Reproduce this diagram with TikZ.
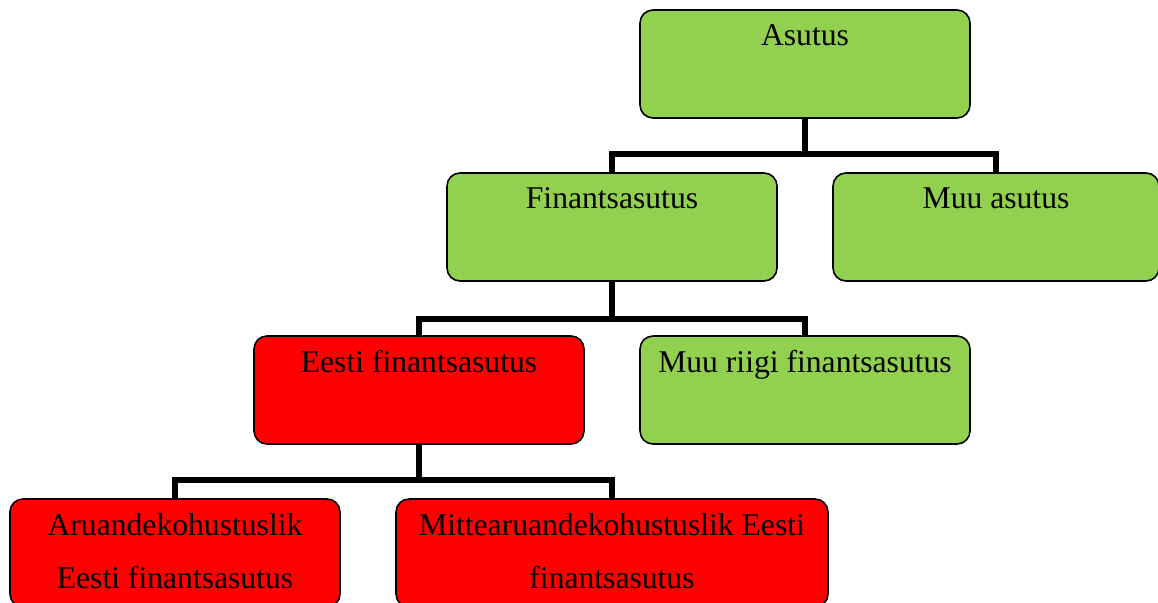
\documentclass[tikz,border=0pt]{standalone}
\usepackage{fontspec}
\setmainfont{Liberation Serif}
\usepackage{tikz}
\definecolor{boxgreen}{HTML}{92D050}
\definecolor{boxred}{HTML}{FF0000}

\begin{document}
\begin{tikzpicture}[
		orgbox/.style={draw=black, line width=0.9pt, rounded corners=0.26cm, minimum width=6.6cm, minimum height=2.16cm, inner sep=0pt},
		gbox/.style={orgbox, fill=boxgreen},
		rbox/.style={orgbox, fill=boxred},
		boxtext/.style={anchor=north, align=center, inner sep=0pt, yshift=-0.3cm, font=\fontsize{18}{30}\selectfont},
		link/.style={line width=3.2pt}]
		\useasboundingbox (0,0) rectangle (23.16,-12.04);
		% boxes
		\node[gbox] (asutus) at (16.1,-1.28) {};
		\node[gbox] (fin) at (12.24,-4.54) {};
		\node[gbox, minimum width=6.52cm] (muu) at (19.92,-4.54) {};
		\node[rbox] (eesti) at (8.38,-7.8) {};
		\node[gbox] (muuriik) at (16.1,-7.8) {};
		\node[rbox] (aru) at (3.5,-11.06) {};
		\node[rbox, minimum width=8.64cm] (mitte) at (12.24,-11.06) {};
		% texts
		\node[boxtext] (asutus-t) at (asutus.north) {Asutus};
		\node[boxtext] (fin-t) at (fin.north) {Finantsasutus};
		\node[boxtext] (muu-t) at (muu.north) {Muu asutus};
		\node[boxtext] (eesti-t) at (eesti.north) {Eesti finantsasutus};
		\node[boxtext] (muuriik-t) at (muuriik.north) {Muu riigi finantsasutus};
		\node[boxtext] (aru-t) at (aru.north) {Aruandekohustuslik\\Eesti finantsasutus};
		\node[boxtext] (mitte-t) at (mitte.north) {Mittearuandekohustuslik Eesti\\finantsasutus};
		% connectors
		\draw[link] (asutus.south) -- ++(0,-0.7) -| (fin.north);
		\draw[link] (asutus.south) ++(0,-0.7) -| (muu.north);
		\draw[link] (fin.south) -- ++(0,-0.74) -| (eesti.north);
		\draw[link] (fin.south) ++(0,-0.74) -| (muuriik.north);
		\draw[link] (eesti.south) -- ++(0,-0.7) -| (aru.north);
		\draw[link] (eesti.south) ++(0,-0.7) -| (mitte.north);
	\end{tikzpicture}
\end{document}
